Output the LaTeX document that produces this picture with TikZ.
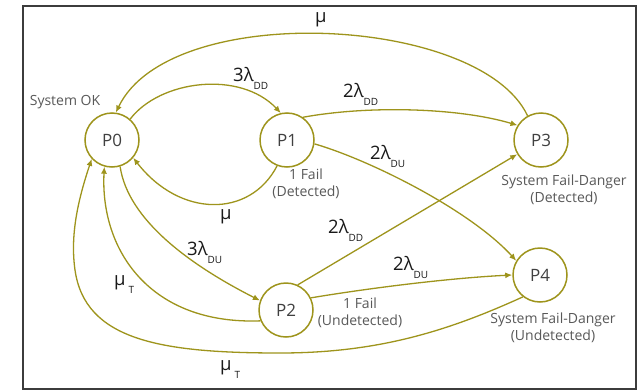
\documentclass[tikz,border=0pt]{standalone}
\usepackage{fontspec}
\setmainfont{Open Sans}
\usetikzlibrary{arrows.meta}
\definecolor{linecol}{RGB}{158,148,28}
\definecolor{framecol}{RGB}{60,60,60}
\newcommand\ratelab[2]{{\fontsize{18.5}{18}\selectfont #1}\raisebox{-8pt}{\fontsize{10}{10}\selectfont #2}}
\newcommand\mulab[1]{{\fontsize{18.5}{18}\selectfont μ}\hspace{3pt}\raisebox{-8pt}{\fontsize{10}{10}\selectfont #1}}
\begin{document}
\begin{tikzpicture}[x=1pt,y=-1pt,
  state/.style={circle,draw=linecol,line width=1.5pt,minimum size=54pt,inner sep=0pt,fill=white,
    font=\fontsize{17}{17}\selectfont,text=black!75},
  edge/.style={draw=linecol,line width=1.3pt,-{Latex[length=7pt,width=6pt]}},
  desc/.style={font=\fontsize{14}{16.5}\selectfont,text=black!65,align=center,inner sep=0pt},
  rate/.style={inner sep=0pt,anchor=base west,text=black!90},
]
\fill[white] (0,0) rectangle (639,391);
\useasboundingbox (0,0) rectangle (639,391);
\draw[framecol,line width=2pt] (23,6) rectangle (636,389);

% states
\node[state] (P0) at (112,140) {P0};
\node[state] (P1) at (287,140) {P1};
\node[state] (P2) at (286,310) {P2};
\node[state] (P3) at (541,140) {P3};
\node[state] (P4) at (540,275) {P4};

% descriptions
\node[desc] (dOK) at (65,102) {System OK};
\node[desc] (d1) at (306,184) {1 Fail\\(Detected)};
\node[desc] (d2) at (360,313) {1 Fail\\(Undetected)};
\node[desc] (d3) at (564,190) {System Fail-Danger\\(Detected)};
\node[desc] (d4) at (553,328) {System Fail-Danger\\(Undetected)};

% edges
\draw[edge] (P0.49) .. controls (160,80) and (240,70) .. (P1.103);
\draw[edge] (P1.-111) .. controls (250,218) and (180,218) .. (P0.-40);
\draw[edge] (P1.55) .. controls (370,105) and (460,108) .. (P3.148);
\draw[edge] (P1.-8) .. controls (370,160) and (470,210) .. (P4.149);
\draw[edge] (P3.119) .. controls (480,15) and (170,0) .. (P0.82);
\draw[edge] (P0.-73) .. controls (128,220) and (190,265) .. (P2.160);
\draw[edge] (P2.-157) .. controls (150,325) and (100,250) .. (P0.-106);
\draw[edge] (P4.-128) .. controls (450,330) and (380,353) .. (280,353)
   .. controls (160,353) and (85,340) .. (75,270)
   .. controls (70,235) and (78,200) .. (P0.-137);
\draw[edge] (P2.65) -- (P3.-149);
\draw[edge] (P2.26) .. controls (370,288) and (450,278) .. (P4.180);

% rate labels
\node[rate] (r1) at (233,81) {\ratelab{3λ}{DD}};
\node[rate] (r2) at (343,97) {\ratelab{2λ}{DD}};
\node[rate] (r3) at (370,159) {\ratelab{2λ}{DU}};
\node[rate] (r4) at (187,255) {\ratelab{3λ}{DU}};
\node[rate] (r5) at (328,233) {\ratelab{2λ}{DD}};
\node[rate] (r6) at (393,270) {\ratelab{2λ}{DU}};
\node[rate] (m1) at (315,22) {\fontsize{18.5}{18}\selectfont μ};
\node[rate] (m2) at (220,219) {\fontsize{18.5}{18}\selectfont μ};
\node[rate] (m3) at (114,285) {\mulab{T}};
\node[rate] (m4) at (220,370) {\mulab{T}};
\end{tikzpicture}
\end{document}
